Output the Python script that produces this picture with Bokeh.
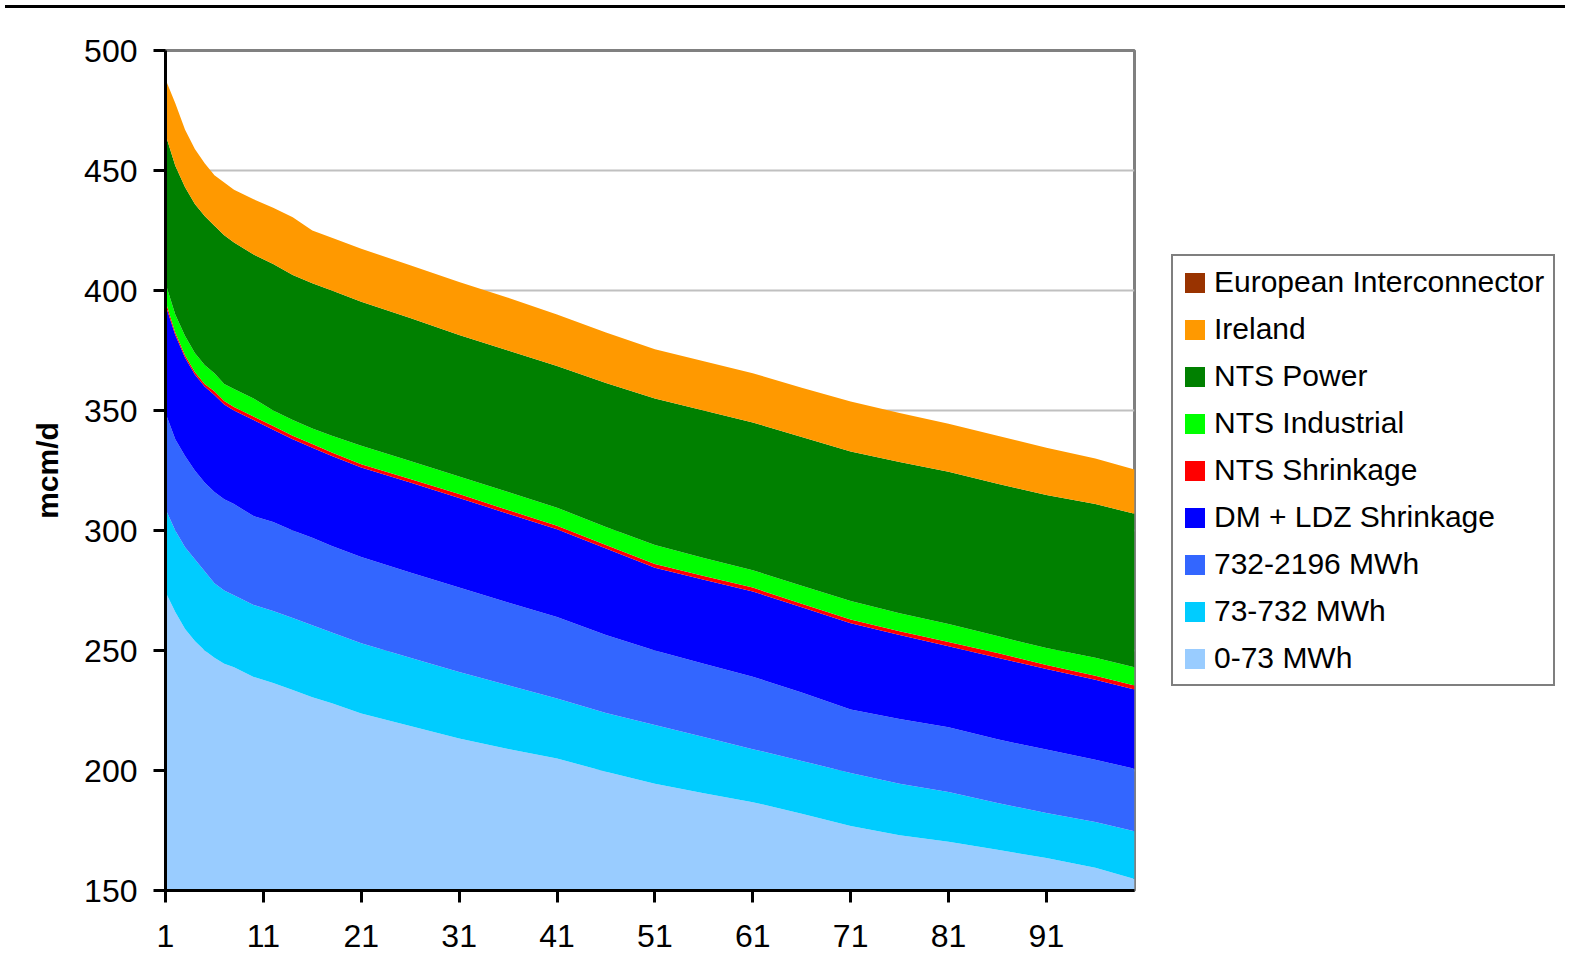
from bokeh.plotting import figure
from bokeh.models import ColumnDataSource, Legend, LegendItem, FixedTicker, Div
from bokeh.layouts import column, row
from bokeh.embed import file_html
from bokeh.resources import INLINE

days = [1, 2, 3, 4, 5, 6, 7, 8, 10, 12, 14, 16, 18, 21, 26, 31, 36, 41, 46, 51,
        56, 61, 66, 71, 76, 81, 86, 91, 96, 100]

mwh_0_73 = [274.4, 266, 259, 254, 250, 247, 244.5, 243, 239, 236.5, 233.5, 230.5, 228, 223.7, 218.5,
            213.3, 209, 205, 199.5, 194.5, 190.5, 186.8, 182, 176.9, 173, 170.3, 167, 163.5, 159.5, 154.8]
mwh_73_732 = [34.6, 34, 34, 34, 33, 31, 30.5, 30, 30, 30, 30, 30, 29.5, 29.3, 28.5,
              27.7, 26.5, 25, 24.5, 24.5, 23.5, 22.1, 22, 22.1, 21.5, 20.7, 19.5, 18.8, 19, 19.9]
mwh_732_2196 = [40, 38, 38, 37, 37, 38, 38, 38, 37, 37, 36.5, 36.5, 36, 36, 35.5,
                35.2, 34.5, 34, 32.5, 31, 30.5, 30.2, 28.5, 26.4, 27, 27, 26.5, 26.4, 26, 26]
dm_ldz = [45, 43.5, 41, 40, 40, 40.5, 39.5, 39, 40, 38.5, 38, 37.5, 37.5, 37.2, 37.5,
          37.3, 37, 36.5, 36, 34.5, 35, 35.5, 35.5, 36, 35, 33.8, 34, 33.6, 33.3, 33.1]
nts_shrinkage = [1.5, 1, 1, 1, 1, 1.5, 1.5, 1.5, 1.5, 1.5, 1.5, 1.5, 1.5, 1.4, 1.5,
                 1.7, 1.5, 1.5, 1.5, 1.5, 1.5, 1.6, 1.5, 1.5, 1.5, 1.7, 2, 1.7, 1.7, 1.6]
nts_industrial = [7.5, 7.5, 8, 8, 8, 7.5, 7, 7.5, 7.5, 6.5, 6.5, 6.5, 7, 7.7, 7.5,
                  7.3, 7.5, 7.5, 7.5, 8, 7.5, 7.2, 7.5, 7.7, 7.5, 7.5, 7, 7, 7.5, 7.6]
nts_power = [62, 62, 62, 62, 62, 61.5, 62, 61, 60, 61, 60.5, 60.5, 60.5, 60, 59.5,
             59, 59, 59, 60, 61, 61.5, 61.6, 62, 62.3, 63, 63.5, 63.5, 63.8, 64, 64]
ireland = [23, 26, 24, 23, 22, 21, 22, 22, 23, 23.5, 24, 22, 22, 22.1, 22,
           22, 22, 21.5, 21, 20.5, 20.5, 20.5, 20.5, 20.9, 20.5, 20, 20, 19.7, 19, 18.4]
european_interconnector = [0] * len(days)

series_keys = ["s_0_73", "s_73_732", "s_732_2196", "s_dm", "s_ntsshr", "s_ind", "s_pow", "s_irl", "s_eu"]
series_labels = ["0-73 MWh", "73-732 MWh", "732-2196 MWh", "DM + LDZ Shrinkage", "NTS Shrinkage",
                 "NTS Industrial", "NTS Power", "Ireland", "European Interconnector"]
series_colors = ["#99CCFF", "#00CCFF", "#3366FF", "#0000FF", "#FF0000",
                 "#00FF00", "#008000", "#FF9900", "#993300"]
series_values = [mwh_0_73, mwh_73_732, mwh_732_2196, dm_ldz, nts_shrinkage,
                 nts_industrial, nts_power, ireland, european_interconnector]

y_ticks = [150, 200, 250, 300, 350, 400, 450, 500]
x_ticks = [1, 11, 21, 31, 41, 51, 61, 71, 81, 91]

data = {"day": days}
for k, v in zip(series_keys, series_values):
    data[k] = v
src = ColumnDataSource(data)

FONT = "Liberation Sans"
W, H = 1560, 958
PW = 1136

p = figure(width=PW, height=H, x_range=(1, 100), y_range=(150, 500),
           output_backend="svg", toolbar_location=None,
           min_border_left=165, min_border_right=2, min_border_top=37, min_border_bottom=81)

renderers = p.varea_stack(stackers=series_keys, x="day", source=src, color=series_colors)

p.xgrid.visible = False
p.ygrid.grid_line_color = "#C0C0C0"
p.ygrid.grid_line_width = 2
p.ygrid.ticker = FixedTicker(ticks=y_ticks)
p.outline_line_color = "#808080"
p.outline_line_width = 3
p.background_fill_color = "white"
p.border_fill_color = "white"

p.yaxis.ticker = FixedTicker(ticks=y_ticks)
p.xaxis.ticker = FixedTicker(ticks=x_ticks)
for ax in (p.xaxis[0], p.yaxis[0]):
    ax.axis_line_color = "black"
    ax.axis_line_width = 3
    ax.major_tick_line_color = "black"
    ax.major_tick_line_width = 3
    ax.major_tick_out = 12
    ax.major_tick_in = 0
    ax.minor_tick_line_color = None
    ax.major_label_text_font = FONT
    ax.major_label_text_font_size = "32px"
    ax.major_label_text_color = "black"
p.yaxis.major_label_standoff = 16
p.xaxis.major_label_standoff = 22
p.yaxis.axis_label = "mcm/d"
p.yaxis.axis_label_text_font = FONT
p.yaxis.axis_label_text_font_size = "30px"
p.yaxis.axis_label_text_font_style = "bold"
p.yaxis.axis_label_text_color = "black"
p.yaxis.axis_label_standoff = 17

# legend panel: a frameless companion figure holding swatch renderers (drawn off-range)
lp = figure(width=W - PW, height=H, x_range=(0, 1), y_range=(0, 1),
            output_backend="svg", toolbar_location=None,
            min_border_left=0, min_border_right=0, min_border_top=0, min_border_bottom=0)
lp.axis.visible = False
lp.grid.visible = False
lp.outline_line_color = None
lp.border_fill_color = "white"
lp.background_fill_color = "white"

items = []
for lab, col in zip(series_labels, series_colors):
    r = lp.varea(x=[5, 6], y1=[5, 5], y2=[6, 6], fill_color=col)
    items.append(LegendItem(label=lab, renderers=[r]))
items = items[::-1]
legend = Legend(items=items, location=(35, 204), orientation="vertical")
legend.label_text_font = FONT
legend.label_text_font_size = "30px"
legend.label_text_color = "black"
legend.glyph_width = 25
legend.glyph_height = 25
legend.label_standoff = 7
legend.spacing = 13
legend.padding = 9
legend.margin = 0
legend.border_line_color = "black"
legend.border_line_width = 2
legend.background_fill_color = "white"
legend.background_fill_alpha = 1
lp.add_layout(legend, "center")

topbar = Div(width=W, height=3, styles={"background-color": "black"})
layout = column(topbar, row(p, lp, spacing=0), spacing=0)

open("out.html", "w").write(file_html(layout, INLINE))
